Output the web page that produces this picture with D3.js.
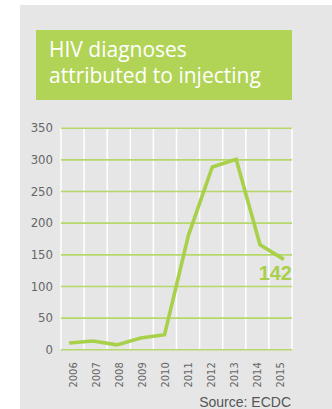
<!DOCTYPE html>
<html>
<head>
<meta charset="utf-8">
<script src="https://cdn.jsdelivr.net/npm/d3@7"></script>
<style>
  html, body { margin: 0; padding: 0; background: #ffffff; }
  svg { display: block; }
</style>
</head>
<body>
<svg id="chart" width="332" height="409"></svg>
<script>
// HIV diagnoses attributed to injecting drug use, by year
const years = ["2006", "2007", "2008", "2009", "2010", "2011", "2012", "2013", "2014", "2015"];
const diagnoses = [10, 13, 7, 18, 23, 180, 288, 300, 165, 142];
const yTicks = [0, 50, 100, 150, 200, 250, 300, 350];
const titleLines = ["HIV diagnoses", "attributed to injecting"];
const sourceText = "Source: ECDC";

const green = "#a9d04b";
const gridGreen = "#b6d86a";
const svg = d3.select("#chart");

// panel background
svg.append("rect").attr("x", 20).attr("y", 5).attr("width", 312).attr("height", 404).attr("fill", "#e6e6e6");

// title block
svg.append("rect").attr("x", 36).attr("y", 30).attr("width", 256).attr("height", 70).attr("fill", "#b1d457");
svg.append("g").selectAll("text").data(titleLines).join("text")
  .attr("x", 49).attr("y", (d, i) => 57 + i * 26)
  .attr("fill", "#ffffff")
  .style("font-family", "'Open Sans', 'Noto Sans', sans-serif")
  .style("font-size", "21px")
  .text(d => d);

// plot geometry
const plotLeft = 61, plotRight = 292, plotTop = 127.7, plotBottom = 349.3;

const y = d3.scaleLinear().domain([0, 350]).range([plotBottom, plotTop]);
const xBand = d3.scaleBand().domain(years).range([plotLeft, plotRight]);
const xPoint = d3.scalePoint().domain(years).range([plotLeft, plotRight]).padding(0.34);

// vertical white grid lines at band edges
const edges = years.map(d => xBand(d)).concat([plotRight]);
svg.append("g").selectAll("line").data(edges).join("line")
  .attr("x1", d => d).attr("x2", d => d)
  .attr("y1", plotTop).attr("y2", plotBottom)
  .attr("stroke", "#ffffff").attr("stroke-width", 1.5);

// horizontal green grid lines + y labels via axis
const yAxis = d3.axisLeft(y).tickValues(yTicks).tickSize(-(plotRight - plotLeft)).tickPadding(8);
const gy = svg.append("g").attr("transform", `translate(${plotLeft},0)`).call(yAxis);
gy.select(".domain").remove();
gy.selectAll(".tick line").attr("stroke", gridGreen).attr("stroke-width", 1.6);
gy.selectAll(".tick text")
  .attr("fill", "#666666")
  .style("font-family", "'Liberation Sans Narrow', 'DejaVu Sans Condensed', sans-serif")
  .style("font-size", "13px");

// x labels, rotated
const xAxis = d3.axisBottom(xBand).tickSize(0).tickPadding(0);
const gx = svg.append("g").attr("transform", `translate(0,${plotBottom})`).call(xAxis);
gx.select(".domain").remove();
gx.selectAll(".tick text")
  .attr("fill", "#666666")
  .attr("text-anchor", "end")
  .attr("transform", "translate(4,13) rotate(-90)")
  .attr("x", 0).attr("y", 0).attr("dy", 0)
  .style("font-family", "'Liberation Sans Narrow', 'DejaVu Sans Condensed', sans-serif")
  .style("font-size", "11px");

// data line
const line = d3.line().x((d, i) => xPoint(years[i])).y(d => y(d));
svg.append("path").datum(diagnoses)
  .attr("d", line)
  .attr("fill", "none")
  .attr("stroke", green)
  .attr("stroke-width", 3.6)
  .attr("stroke-linejoin", "miter");

// last value label
const lastIdx = diagnoses.length - 1;
svg.append("text")
  .attr("x", plotRight)
  .attr("y", y(diagnoses[lastIdx]) + 21)
  .attr("text-anchor", "end")
  .attr("fill", green)
  .style("font-family", "'Liberation Sans', Arial, sans-serif")
  .style("font-weight", "bold")
  .style("font-size", "20px")
  .text(diagnoses[lastIdx]);

// source note
svg.append("text")
  .attr("x", 291).attr("y", 406.5)
  .attr("text-anchor", "end")
  .attr("fill", "#555555")
  .style("font-family", "'Liberation Sans', Arial, sans-serif")
  .style("font-size", "14px")
  .text(sourceText);
</script>
</body>
</html>
